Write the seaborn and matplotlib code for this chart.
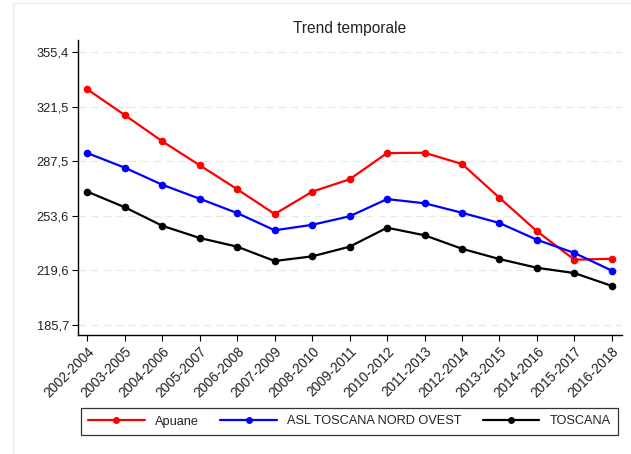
import matplotlib
matplotlib.use("Agg")
import matplotlib.pyplot as plt
from matplotlib.patches import Rectangle
import numpy as np
import pandas as pd
import seaborn as sns

periods = ["2002-2004", "2003-2005", "2004-2006", "2005-2007", "2006-2008",
           "2007-2009", "2008-2010", "2009-2011", "2010-2012", "2011-2013",
           "2012-2014", "2013-2015", "2014-2016", "2015-2017", "2016-2018"]

apuane = [332.2, 316.2, 299.9, 285.0, 270.1, 254.7, 268.6, 276.3, 292.6, 292.8,
          285.8, 264.8, 244.0, 226.3, 226.9]
asl_nord_ovest = [292.6, 283.5, 272.9, 264.2, 255.3, 244.6, 248.0, 253.3, 264.0,
                  261.4, 255.5, 249.1, 238.7, 230.5, 219.5]
toscana = [268.6, 258.9, 247.4, 239.8, 234.4, 225.5, 228.4, 234.4, 246.2, 241.5,
           233.1, 226.7, 221.3, 218.0, 210.0]

series_names = ["Apuane", "ASL TOSCANA NORD OVEST", "TOSCANA"]
series_colors = ["#ff0000", "#0000ff", "#000000"]

y_min, y_max = 185.7, 355.4
y_ticks = np.linspace(y_min, y_max, 6)

frames = []
for name, vals in zip(series_names, [apuane, asl_nord_ovest, toscana]):
    frames.append(pd.DataFrame({"idx": np.arange(len(periods)), "periodo": periods,
                                "valore": vals, "serie": name}))
df = pd.concat(frames, ignore_index=True)

sns.set_theme(style="white")
plt.rcParams["font.family"] = ["Liberation Sans", "DejaVu Sans"]

fig = plt.figure(figsize=(6.31, 4.54), dpi=100)
ax = fig.add_axes([78 / 631, 1 - 335 / 454, 544 / 631, 295 / 454])

# faint frame around the chart area
fig.patches.append(Rectangle((13 / 631, -0.1), 1.2, 1.1 - 3 / 454, transform=fig.transFigure,
                             fill=False, edgecolor="#e6ecf0", linewidth=1.0, zorder=0))

sns.lineplot(data=df, x="idx", y="valore", hue="serie", hue_order=series_names,
             palette=series_colors, marker="o", markersize=5.5, markeredgewidth=0,
             linewidth=1.6, sort=False, ax=ax, legend=False)

ax.set_xlim(-0.25, 14.27)
ax.set_ylim(179.5, 362.9)
ax.set_xticks(np.arange(len(periods)))
ax.set_xticklabels(periods, rotation=45, ha="right", rotation_mode="anchor", fontsize=9.8)
ax.set_yticks(y_ticks)
ax.set_yticklabels([f"{v:.1f}".replace(".", ",") for v in y_ticks], fontsize=9.3)
ax.set_xlabel("")
ax.set_ylabel("")

for y in y_ticks:
    ax.axhline(y, color="#e8e8e8", linewidth=0.9, linestyle=(0, (6, 4)), zorder=0)

ax.tick_params(axis="both", direction="out", length=4.5, width=0.8, colors="black",
               labelcolor="#222222", pad=2, bottom=True, left=True)
for side in ["top", "right"]:
    ax.spines[side].set_visible(False)
for side in ["left", "bottom"]:
    ax.spines[side].set_color("black")
    ax.spines[side].set_linewidth(1.0)

ax.set_title("Trend temporale", fontsize=11.2, color="#222222", pad=5)

handles = [plt.Line2D([], [], color=c, marker="o", markersize=5, linewidth=1.6,
                      markeredgewidth=0) for c in series_colors]
leg = fig.legend(handles, series_names, loc="center",
                 bbox_to_anchor=(349.5 / 631, 1 - 421.5 / 454), ncol=3, fontsize=9.2,
                 frameon=True, fancybox=False, edgecolor="black", handlelength=4.4,
                 columnspacing=1.7, borderpad=0.55, handletextpad=0.8)
leg.get_frame().set_linewidth(0.9)
for t in leg.get_texts():
    t.set_color("#222222")

fig.savefig("out.png", dpi=100, facecolor="white")
